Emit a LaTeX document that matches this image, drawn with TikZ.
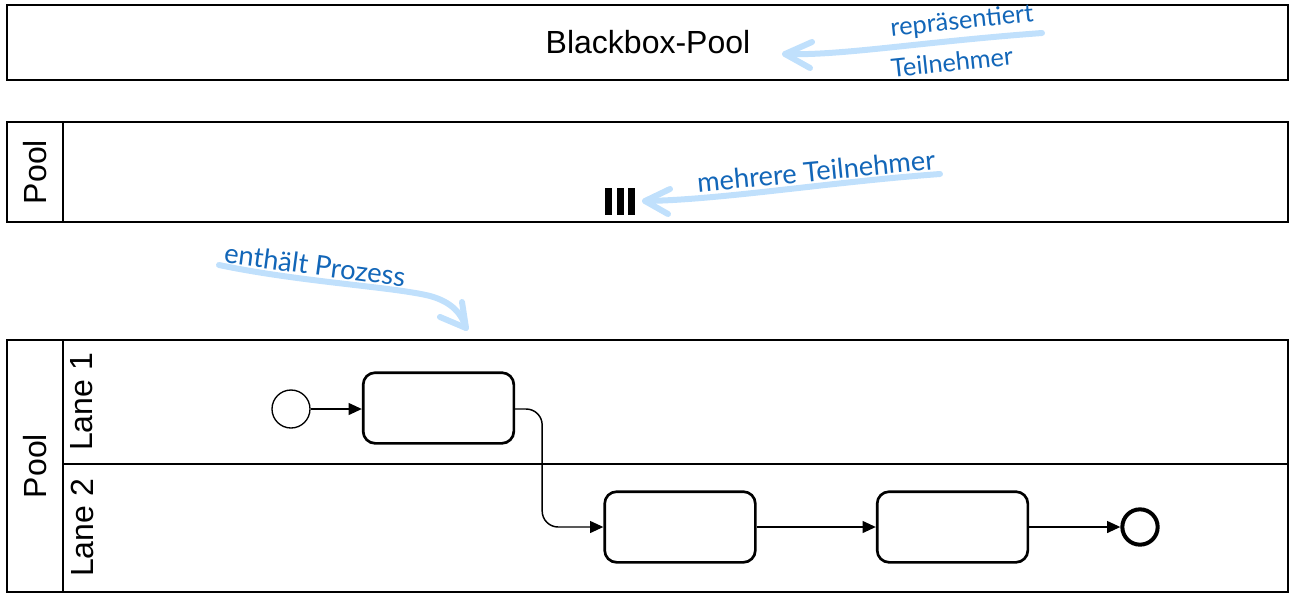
\documentclass[tikz,border=0pt]{standalone}
\usepackage{fontspec}
\setmainfont{Liberation Sans}
\newfontfamily\annofont{Lato}
\usetikzlibrary{arrows.meta}
\definecolor{annotxt}{RGB}{18,102,184}
\definecolor{annoline}{RGB}{192,224,252}
\tikzset{
  poolframe/.style={draw=black, line width=1.3pt},
  label/.style={font=\fontsize{24}{27}\selectfont, inner sep=0pt},
  task/.style={draw, line width=2pt, rounded corners=9pt, minimum width=113pt, minimum height=53pt, inner sep=0pt},
  startev/.style={draw, circle, line width=1pt, minimum size=28.5pt, inner sep=0pt},
  endev/.style={draw, circle, line width=3pt, minimum size=26.5pt, inner sep=0pt},
  flow/.style={line width=1.1pt, -{Triangle[length=10pt,width=9pt]}},
  anno/.style={font=\annofont\fontsize{20.5}{24}\selectfont, text=annotxt, inner sep=0pt},
  annosmall/.style={anno, font=\annofont\fontsize{19}{22}\selectfont},
  annoarrow/.style={draw=annoline, line width=4.5pt, line cap=round, line join=round},
}
\begin{document}
\begin{tikzpicture}[x=0.75pt, y=-0.75pt]
\useasboundingbox (0,0) rectangle (1295,593);
% Blackbox pool
\draw[poolframe] (7,5) rectangle (1288,80);
\node[label] (bb) at (648,42) {Blackbox-Pool};
% Pool with multi-instance marker
\draw[poolframe] (7,122) rectangle (1288,222);
\draw[poolframe] (63,122) -- (63,222);
\node[label, rotate=90] (pool1) at (35,172) {Pool};
\fill (605,188) rectangle (612,215);
\fill (617,188) rectangle (624,215);
\fill (628,188) rectangle (635,215);
% Pool with lanes
\draw[poolframe] (7,340) rectangle (1288,592);
\draw[poolframe] (63,340) -- (63,592);
\draw[poolframe] (63,464) -- (1288,464);
\node[label, rotate=90] (pool2) at (35,466) {Pool};
\node[label, rotate=90] (lane1) at (82,402) {Lane 1};
\node[label, rotate=90] (lane2) at (82,528) {Lane 2};
% Process
\node[startev] (s) at (291,409) {};
\node[task] (t1) at (438.5,408) {};
\node[task] (t2) at (680,527) {};
\node[task] (t3) at (952.5,527) {};
\node[endev] (e) at (1140,527) {};
\draw[flow] (s) -- (t1.west |- s);
\draw[flow, rounded corners=12pt] (t1.east |- s) -- ++(27,0) |- (t2.west);
\draw[flow] (t2) -- (t3);
\draw[flow] (t3) -- (e);
% Annotations
\node[annosmall, rotate=6] (a1) at (962,22) {repräsentiert};
\node[annosmall, rotate=6] (a2) at (952,62) {Teilnehmer};
\coordinate (a1s) at (1042,33);
\coordinate (a1t) at (785,54);
\draw[annoarrow] (a1s) .. controls (920,42) and (840,56) .. (a1t);
\draw[annoarrow] (812,42) -- (a1t) -- (810,68);
\node[anno, rotate=5.5] (a3) at (816,171) {mehrere Teilnehmer};
\coordinate (a3s) at (940,174);
\coordinate (a3t) at (645,201);
\draw[annoarrow] (a3s) .. controls (830,182) and (720,200) .. (a3t);
\draw[annoarrow] (670,189) -- (a3t) -- (668,214);
\node[anno, rotate=-7.5] (a4) at (315,265) {enthält Prozess};
\coordinate (a4s) at (219,265);
\coordinate (a4t) at (466,328);
\draw[annoarrow] (a4s) .. controls (300,282) and (395,287) .. (430,296) .. controls (452,302) and (462,314) .. (a4t);
\draw[annoarrow] (440,317) -- (a4t) -- (462,302);
\end{tikzpicture}
\end{document}
